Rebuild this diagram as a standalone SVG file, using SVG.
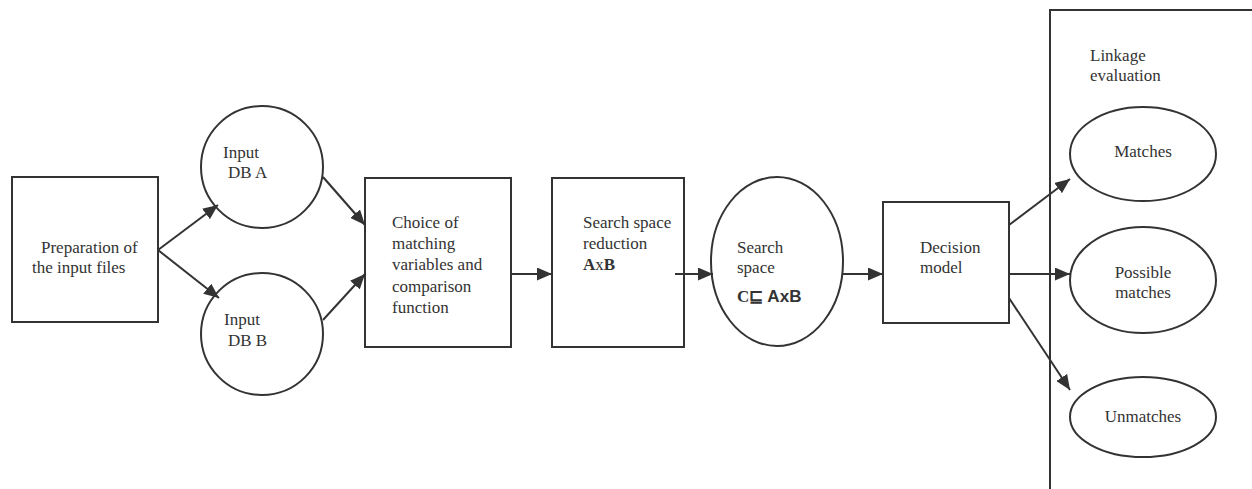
<svg xmlns="http://www.w3.org/2000/svg" width="1252" height="489" viewBox="0 0 1252 489">
<style>
text{font-family:"Liberation Serif","Times New Roman",serif;font-size:17px;fill:#333}
.s{fill:#fff;stroke:#333;stroke-width:2}
.c{text-anchor:middle}
.l{stroke:#333;stroke-width:2;fill:none;marker-end:url(#ah)}
.sans{font-family:"Liberation Sans",Arial,sans-serif;font-weight:bold}
</style>
<defs>
<marker id="ah" viewBox="0 0 10 10" refX="10" refY="5" markerWidth="15" markerHeight="13" markerUnits="userSpaceOnUse" orient="auto" preserveAspectRatio="none">
<path d="M0,0 L10,5 L0,10 Z" fill="#333"/>
</marker>
</defs>
<rect width="1252" height="489" fill="#fff"/>
<g id="panel">
<path d="M1050,489 L1050,10 L1252,10" fill="none" stroke="#333" stroke-width="2"/>
<text x="1090" y="61">Linkage</text>
<text x="1090" y="81">evaluation</text>
</g>
<g id="prep">
<rect class="s" x="12" y="177" width="146" height="145"/>
<text x="41" y="253">Preparation of</text>
<text x="32" y="273">the input files</text>
</g>
<g id="inputA">
<circle class="s" cx="262" cy="167" r="61"/>
<text x="223" y="158">Input</text>
<text x="228" y="178">DB A</text>
</g>
<g id="inputB">
<circle class="s" cx="262" cy="334" r="61"/>
<text x="224" y="325">Input</text>
<text x="228" y="346">DB B</text>
</g>
<g id="choice">
<rect class="s" x="365" y="178" width="146" height="169"/>
<text x="392" y="228">Choice of</text>
<text x="392" y="249">matching</text>
<text x="392" y="270">variables and</text>
<text x="392" y="292">comparison</text>
<text x="392" y="313">function</text>
</g>
<g id="reduction">
<rect class="s" x="552" y="178" width="132" height="169"/>
<text x="583" y="228">Search space</text>
<text x="583" y="249">reduction</text>
<text x="583" y="270"><tspan font-weight="bold">A</tspan>x<tspan font-weight="bold">B</tspan></text>
</g>
<g id="space">
<ellipse class="s" cx="777" cy="261.5" rx="66" ry="84.5"/>
<text x="737" y="253">Search</text>
<text x="737" y="273">space</text>
<text x="737" y="302"><tspan font-weight="bold">C</tspan><tspan class="sans">⊑ A</tspan><tspan class="sans" font-weight="normal">x</tspan><tspan class="sans">B</tspan></text>
</g>
<g id="decision">
<rect class="s" x="883" y="202" width="126" height="121"/>
<text x="920" y="253">Decision</text>
<text x="920" y="273">model</text>
</g>
<g id="matches">
<ellipse class="s" cx="1143" cy="154" rx="73" ry="47"/>
<text class="c" x="1143" y="157">Matches</text>
</g>
<g id="possible">
<ellipse class="s" cx="1143" cy="280" rx="73" ry="53"/>
<text class="c" x="1143" y="278">Possible</text>
<text class="c" x="1143" y="298">matches</text>
</g>
<g id="unmatches">
<ellipse class="s" cx="1143" cy="417" rx="73" ry="40"/>
<text class="c" x="1143" y="422">Unmatches</text>
</g>
<g id="connectors">
<line class="l" x1="158" y1="250" x2="218" y2="205"/>
<line class="l" x1="158" y1="250" x2="219" y2="298"/>
<line class="l" x1="323" y1="177" x2="365" y2="225"/>
<line class="l" x1="323" y1="320" x2="365" y2="274"/>
<line class="l" x1="511" y1="274" x2="552" y2="274"/>
<line class="l" x1="675" y1="274" x2="713" y2="274"/>
<line class="l" x1="843" y1="274" x2="883" y2="274"/>
<line class="l" x1="1009" y1="225" x2="1070" y2="179"/>
<line class="l" x1="1009" y1="274" x2="1070" y2="274"/>
<line class="l" x1="1009" y1="298" x2="1070" y2="390"/>
</g>
</svg>
